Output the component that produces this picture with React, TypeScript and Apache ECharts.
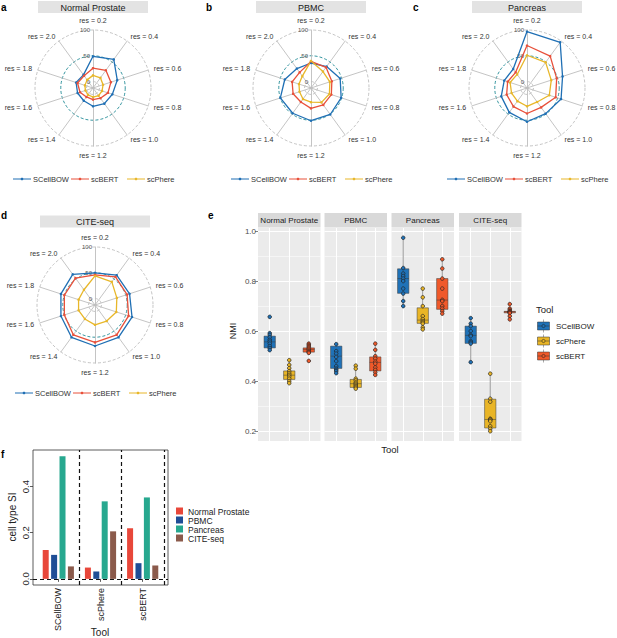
import React, { useEffect, useRef } from 'react';
import * as echarts from 'echarts';

const FONT = 'Liberation Sans, Arial, Helvetica, sans-serif';

// ---------- radar panels (a-d) ----------
const RES_LABELS = ['res = 0.2', 'res = 0.4', 'res = 0.6', 'res = 0.8', 'res = 1.0', 'res = 1.2', 'res = 1.4', 'res = 1.6', 'res = 1.8', 'res = 2.0'];
const RADAR_TOOLS = ['SCellBOW', 'scBERT', 'scPhere'];
const RADAR_COLORS = ['#1f6fb4', '#e8503a', '#e8b72a'];
const RADAR_TICKS = [0, 50, 100];

const NP_SCELLBOW = [49, 56, 37, 27, 25, 23, 18, 19, 22, 19];
const NP_SCBERT = [26, 30, 24, 18, 12, 10, 9, 14, 19, 17];
const NP_SCPHERE = [12, 12, 8, 6, 6, 5, 4, 3, 4, 7];

const PBMC_SCELLBOW = [36, 39, 47, 49, 51, 51, 48, 50, 41, 34];
const PBMC_SCBERT = [39, 37, 30, 29, 28, 27, 21, 24, 26, 25];
const PBMC_SCPHERE = [40, 27, 26, 25, 22, 15, 14, 11, 12, 16];

const PANC_SCELLBOW = [97, 97, 60, 57, 49, 53, 46, 40, 34, 33];
const PANC_SCBERT = [70, 64, 48, 46, 34, 37, 32, 29, 27, 25];
const PANC_SCPHERE = [51, 49, 37, 33, 21, 23, 19, 19, 22, 20];

const CITE_SCELLBOW = [50, 59, 58, 63, 65, 67, 65, 57, 57, 61];
const CITE_SCBERT = [46, 55, 53, 56, 59, 60, 59, 50, 50, 52];
const CITE_SCPHERE = [44, 43, 32, 31, 26, 26, 21, 21, 21, 24];

// ---------- boxplot panel (e) ----------
const NMI_TOOLS = ['SCellBOW', 'scPhere', 'scBERT'];
const NMI_COLORS = ['#1f72b8', '#e9b526', '#f0592a'];
const NMI_DATASETS = ['Normal Prostate', 'PBMC', 'Pancreas', 'CITE-seq'];
const NMI_TICKS = [0.2, 0.4, 0.6, 0.8, 1.0];
const NMI_MINOR = [0.3, 0.5, 0.7, 0.9];

// [lower whisker, Q1, median, Q3, upper whisker] per tool (SCellBOW, scPhere, scBERT)
const BOX_NP = [[0.524, 0.533, 0.557, 0.58, 0.597], [0.392, 0.407, 0.424, 0.441, 0.484], [0.513, 0.516, 0.527, 0.533, 0.55]];
const BOX_PBMC = [[0.432, 0.451, 0.5, 0.54, 0.548], [0.37, 0.375, 0.39, 0.407, 0.462], [0.425, 0.441, 0.475, 0.497, 0.55]];
const BOX_PANC = [[0.7, 0.751, 0.81, 0.849, 0.973], [0.607, 0.631, 0.644, 0.693, 0.77], [0.67, 0.687, 0.724, 0.81, 0.887]];
const BOX_CITE = [[0.476, 0.551, 0.583, 0.62, 0.652], [0.2, 0.213, 0.247, 0.328, 0.43], [0.668, 0.673, 0.677, 0.679, 0.685]];

const PTS_NP = [
  [0.657, 0.592, 0.585, 0.575, 0.565, 0.558, 0.55, 0.54, 0.532, 0.524],
  [0.484, 0.465, 0.452, 0.44, 0.432, 0.425, 0.418, 0.41, 0.4, 0.392],
  [0.55, 0.545, 0.54, 0.535, 0.53, 0.525, 0.52, 0.516, 0.513, 0.481],
];
const PTS_PBMC = [
  [0.548, 0.52, 0.51, 0.497, 0.48, 0.46, 0.45, 0.445, 0.44, 0.432],
  [0.462, 0.45, 0.41, 0.403, 0.395, 0.39, 0.385, 0.38, 0.375, 0.37],
  [0.55, 0.525, 0.5, 0.49, 0.478, 0.47, 0.455, 0.445, 0.435, 0.425],
];
const PTS_PANC = [
  [0.973, 0.852, 0.83, 0.82, 0.81, 0.8, 0.77, 0.75, 0.72, 0.7],
  [0.77, 0.735, 0.7, 0.66, 0.648, 0.64, 0.635, 0.63, 0.615, 0.607],
  [0.887, 0.85, 0.81, 0.77, 0.725, 0.72, 0.7, 0.69, 0.68, 0.67],
];
const PTS_CITE = [
  [0.652, 0.63, 0.62, 0.6, 0.585, 0.58, 0.56, 0.555, 0.55, 0.476],
  [0.43, 0.33, 0.318, 0.25, 0.247, 0.245, 0.24, 0.22, 0.21, 0.2],
  [0.708, 0.69, 0.685, 0.68, 0.678, 0.676, 0.674, 0.672, 0.66, 0.647],
];

// ---------- bar panel (f) ----------
const SI_TOOLS = ['SCellBOW', 'scPhere', 'scBERT'];
const SI_DATASETS = ['Normal Prostate', 'PBMC', 'Pancreas', 'CITE-seq'];
const SI_COLORS = ['#e8473a', '#1f4e96', '#27a88f', '#8b5a4b'];
const SI_NP = [0.125, 0.049, 0.219];
const SI_PBMC = [0.104, 0.032, 0.068];
const SI_PANC = [0.532, 0.336, 0.353];
const SI_CITE = [0.054, 0.206, 0.058];
const SI_TICKS = [0, 0.2, 0.4];
const SI_DIVIDERS = [1.5, 2.5, 3.5];

// ---------- layout ----------
const RADAR_LAYOUT = [
  { cx: 93, cy: 88, stripY: 1, legendY: 179, title: NMI_DATASETS[0], data: [NP_SCELLBOW, NP_SCBERT, NP_SCPHERE] },
  { cx: 311, cy: 88, stripY: 1, legendY: 179, title: NMI_DATASETS[1], data: [PBMC_SCELLBOW, PBMC_SCBERT, PBMC_SCPHERE] },
  { cx: 527, cy: 88, stripY: 1, legendY: 179, title: NMI_DATASETS[2], data: [PANC_SCELLBOW, PANC_SCBERT, PANC_SCPHERE] },
  { cx: 95, cy: 305, stripY: 215.5, legendY: 393, title: NMI_DATASETS[3], data: [CITE_SCELLBOW, CITE_SCBERT, CITE_SCPHERE] },
];
const RADAR_R = 58;
const RING_MIN = -12.5;
const RING_STEP = 6.25;
const RING_N = 18;
// ECharts lays radar indicators out counter-clockwise; this order makes them run clockwise from the top
const CLOCKWISE = [0, 9, 8, 7, 6, 5, 4, 3, 2, 1];

const E_LEFTS = [258, 324.5, 391.5, 459];
const E_W = 62.5;
const E_TOP = 228;
const E_H = 213;
const BOXES = [BOX_NP, BOX_PBMC, BOX_PANC, BOX_CITE];
const POINTS = [PTS_NP, PTS_PBMC, PTS_PANC, PTS_CITE];
const SI_VALUES = [SI_NP, SI_PBMC, SI_PANC, SI_CITE];

function txt(x: number, y: number, text: string, extra: any = {}, rotation = 0) {
  return {
    type: 'text', x, y, rotation, silent: true,
    style: { text, fontFamily: FONT, fontSize: 9, fill: '#222', align: 'left', verticalAlign: 'middle', ...extra },
  };
}

function strip(cx: number, y: number, w: number, h: number, text: string, fs: number, fill: string) {
  return {
    type: 'group', x: cx - w / 2, y, silent: true,
    children: [
      { type: 'rect', shape: { x: 0, y: 0, width: w, height: h }, style: { fill } },
      txt(w / 2, h / 2 + 0.5, text, { align: 'center', fontSize: fs, fill: '#1a1a1a' }),
    ],
  };
}

function radarLegend(cx: number, y: number) {
  const offs = [0, 58, 114];
  return RADAR_TOOLS.map((t, i) => ({
    type: 'group', x: cx - 80 + offs[i], y, silent: true,
    children: [
      { type: 'line', shape: { x1: 0, y1: 0, x2: 18, y2: 0 }, style: { stroke: RADAR_COLORS[i], lineWidth: 1 } },
      { type: 'circle', shape: { cx: 9, cy: 0, r: 1.3 }, style: { fill: RADAR_COLORS[i] } },
      txt(20, 0.5, t, { fontSize: 7.5, fill: '#333' }),
    ],
  }));
}

function renderBox(params: any, api: any) {
  const x = api.value(0);
  const lo = api.coord([x, api.value(1)]);
  const q1 = api.coord([x, api.value(2)]);
  const md = api.coord([x, api.value(3)]);
  const q3 = api.coord([x, api.value(4)]);
  const hi = api.coord([x, api.value(5)]);
  const half = api.size([1, 0])[0] * 0.29;
  const color = NMI_COLORS[Math.round(x) - 1];
  const stroke = '#3a3a3a';
  return {
    type: 'group',
    children: [
      { type: 'line', shape: { x1: lo[0], y1: lo[1], x2: q1[0], y2: q1[1] }, style: { stroke: '#555', lineWidth: 0.6 } },
      { type: 'line', shape: { x1: q3[0], y1: q3[1], x2: hi[0], y2: hi[1] }, style: { stroke: '#555', lineWidth: 0.6 } },
      { type: 'rect', shape: { x: q3[0] - half, y: q3[1], width: half * 2, height: Math.max(q1[1] - q3[1], 0.5) }, style: { fill: color, stroke, lineWidth: 0.5 } },
      { type: 'line', shape: { x1: md[0] - half, y1: md[1], x2: md[0] + half, y2: md[1] }, style: { stroke, lineWidth: 0.7, opacity: 0.7 } },
    ],
  };
}

function buildOption(): any {
  const ringColors = Array.from({ length: RING_N + 1 }, (_, k) => {
    const v = RING_MIN + k * RING_STEP;
    if (v === 0 || v === 100) return '#b5b5b5';
    if (v === 50) return '#007A87';
    return 'rgba(0,0,0,0)';
  });

  const radar = RADAR_LAYOUT.map((p) => ({
    center: [p.cx, p.cy],
    radius: RADAR_R,
    startAngle: 90,
    shape: 'circle',
    splitNumber: RING_N,
    indicator: CLOCKWISE.map((k, i) => ({
      name: RES_LABELS[k], min: RING_MIN, max: 100,
      ...(i === 0
        ? {
            axisLabel: {
              show: true, fontSize: 6, color: '#555', margin: 3, fontFamily: FONT,
              formatter: (v: number) => {
                const r = Math.round(v * 100) / 100;
                return RADAR_TICKS.includes(r) ? String(r) : '';
              },
            },
          }
        : {}),
    })),
    axisName: { color: '#333', fontSize: 7, fontFamily: FONT },
    nameGap: 6,
    axisLine: { lineStyle: { color: '#bdbdbd', width: 0.9 } },
    axisTick: { show: false },
    axisLabel: { show: false },
    splitLine: { lineStyle: { color: ringColors, type: [3, 2], width: 0.8 } },
    splitArea: { show: false },
  }));

  const radarSeries = RADAR_LAYOUT.map((p, pi) => ({
    type: 'radar', radarIndex: pi, symbol: 'circle', symbolSize: 2.5, silent: true, z: 3,
    data: p.data.map((vals, ti) => ({
      name: RADAR_TOOLS[ti], value: CLOCKWISE.map((k) => vals[k]),
      lineStyle: { color: RADAR_COLORS[ti], width: 1.3 },
      itemStyle: { color: RADAR_COLORS[ti] },
    })),
  }));

  const grid: any[] = E_LEFTS.map((l) => ({ left: l, top: E_TOP, width: E_W, height: E_H, show: true, backgroundColor: '#ebebeb', borderWidth: 0 }));
  grid.push({ left: 33, top: 450, width: 135, height: 135, show: true, backgroundColor: '#fff', borderColor: '#333', borderWidth: 0.8 });

  const xAxis: any[] = E_LEFTS.map((_, i) => ({
    type: 'value', gridIndex: i, min: 0.4, max: 3.6,
    axisLine: { show: false },
    axisTick: { show: false, customValues: [1, 2, 3] },
    axisLabel: { show: false, customValues: [1, 2, 3] },
    splitLine: { show: true, lineStyle: { color: '#fff', width: 1.1 } },
  }));
  xAxis.push({
    type: 'value', gridIndex: 4, min: 0.4, max: 3.6,
    axisLine: { show: false },
    splitLine: { show: false },
    axisTick: { show: true, customValues: [1, 2, 3], length: 3, lineStyle: { color: '#333', width: 0.8 } },
    axisLabel: {
      customValues: [1, 2, 3], rotate: 90, fontSize: 9, color: '#222', margin: 3, fontFamily: FONT,
      formatter: (v: number) => SI_TOOLS[Math.round(v) - 1] ?? '',
    },
  });

  const yAxis: any[] = E_LEFTS.map((_, i) => ({
    type: 'value', gridIndex: i, min: 0.161, max: 1.012,
    axisLine: { show: false },
    axisTick: { show: i === 0, customValues: NMI_TICKS, length: 3, lineStyle: { color: '#333', width: 0.6 } },
    axisLabel: { show: i === 0, customValues: NMI_TICKS, formatter: (v: number) => v.toFixed(1), fontSize: 8, color: '#4d4d4d', margin: 2, fontFamily: FONT },
    splitLine: { show: true, lineStyle: { color: '#fff', width: 1.1 } },
  }));
  yAxis.push({
    type: 'value', gridIndex: 4, min: -0.0266, max: 0.5586,
    axisLine: { show: false },
    splitLine: { show: false },
    axisTick: { customValues: SI_TICKS, length: 3, lineStyle: { color: '#333', width: 0.8 } },
    axisLabel: { customValues: SI_TICKS, formatter: (v: number) => v.toFixed(1), rotate: 90, fontSize: 9.5, color: '#222', margin: 3, fontFamily: FONT },
  });
  E_LEFTS.forEach((_, i) => {
    yAxis.push({
      type: 'value', gridIndex: i, min: 0.161, max: 1.012,
      axisLine: { show: false },
      axisTick: { show: false, customValues: NMI_MINOR },
      axisLabel: { show: false },
      splitLine: { show: true, lineStyle: { color: '#fff', width: 0.5 } },
    });
  });

  const boxSeries = BOXES.map((boxes, i) => ({
    type: 'custom', xAxisIndex: i, yAxisIndex: i, silent: true, z: 2,
    data: boxes.map((b, ti) => [ti + 1, ...b]),
    encode: { x: 0, y: [1, 2, 3, 4, 5] },
    renderItem: renderBox,
  }));
  const pointSeries = POINTS.map((pts, i) => ({
    type: 'scatter', xAxisIndex: i, yAxisIndex: i, silent: true, z: 3,
    symbol: 'circle', symbolSize: 3.6,
    itemStyle: { borderColor: '#222', borderWidth: 0.7, opacity: 1 },
    data: pts.flatMap((arr, ti) => arr.map((v) => ({ value: [ti + 1, v], itemStyle: { color: NMI_COLORS[ti] } }))),
  }));

  const barSeries = SI_DATASETS.map((name, di) => ({
    type: 'bar', name, xAxisIndex: 4, yAxisIndex: 4, silent: true, z: 2,
    barWidth: 6, barGap: '40%',
    itemStyle: { color: SI_COLORS[di] },
    data: SI_VALUES[di].map((v, ti) => [ti + 1, v]),
  }));
  const dividerSeries = {
    type: 'line', xAxisIndex: 4, yAxisIndex: 4, data: [], silent: true, z: 5,
    markLine: {
      silent: true, symbol: 'none', z: 5, animation: false,
      label: { show: false },
      lineStyle: { color: '#111', type: [4, 3], width: 1.2 },
      data: [...SI_DIVIDERS.map((x) => ({ xAxis: x })), { yAxis: 0 }],
    },
  };

  const graphics: any[] = [];
  [['a', 1, 2], ['b', 206, 2], ['c', 413, 2], ['d', 1, 210], ['e', 208, 210], ['f', 1, 449]].forEach(([t, x, y]) => {
    graphics.push(txt(x as number, y as number, t as string, { fontWeight: 'bold', fontSize: 10, verticalAlign: 'top', fill: '#000' }));
  });
  RADAR_LAYOUT.forEach((p) => {
    graphics.push(strip(p.cx, p.stripY, 110, 12, p.title, 9, '#e3e3e3'));
    radarLegend(p.cx, p.legendY).forEach((g) => graphics.push(g));
  });
  E_LEFTS.forEach((l, i) => graphics.push(strip(l + E_W / 2, 213, E_W, 14.5, NMI_DATASETS[i], 8, '#d9d9d9')));
  graphics.push(txt(233, 331, 'NMI', { align: 'center', fontSize: 9 }, Math.PI / 2));
  graphics.push(txt(390, 449, 'Tool', { align: 'center', fontSize: 9.5 }));
  graphics.push(txt(536, 309, 'Tool', { fontSize: 9.5 }));
  NMI_TOOLS.forEach((t, i) => {
    const cy = 326 + i * 15;
    graphics.push({
      type: 'group', x: 537, y: cy, silent: true,
      children: [
        { type: 'line', shape: { x1: 6.5, y1: -6.5, x2: 6.5, y2: 6.5 }, style: { stroke: '#555', lineWidth: 0.5 } },
        { type: 'rect', shape: { x: 0.5, y: -4, width: 12, height: 8 }, style: { fill: NMI_COLORS[i], stroke: '#333', lineWidth: 0.5 } },
        { type: 'line', shape: { x1: 0.5, y1: 0, x2: 12.5, y2: 0 }, style: { stroke: '#333', lineWidth: 0.5 } },
        { type: 'circle', shape: { cx: 6.5, cy: 0, r: 1.6 }, style: { fill: NMI_COLORS[i], stroke: '#222', lineWidth: 0.6 } },
      ],
    });
    graphics.push(txt(556, cy + 0.5, t, { fontSize: 8 }));
  });
  graphics.push(txt(12, 517, 'cell type SI', { align: 'center', fontSize: 10 }, Math.PI / 2));
  graphics.push(txt(100, 632, 'Tool', { align: 'center', fontSize: 10 }));
  SI_DATASETS.forEach((d, i) => {
    const cy = 511 + i * 9;
    graphics.push({ type: 'rect', silent: true, shape: { x: 176, y: cy - 3.5, width: 7, height: 7 }, style: { fill: SI_COLORS[i] } });
    graphics.push(txt(188, cy + 0.5, d, { fontSize: 8.5 }));
  });

  return {
    animation: false,
    backgroundColor: '#fff',
    textStyle: { fontFamily: FONT },
    radar,
    grid,
    xAxis,
    yAxis,
    series: [...radarSeries, ...boxSeries, ...pointSeries, ...barSeries, dividerSeries],
    graphic: graphics,
  };
}

export default function App() {
  const ref = useRef<HTMLDivElement>(null);
  useEffect(() => {
    const chart = echarts.init(ref.current as HTMLDivElement, null, { renderer: 'svg' });
    chart.setOption(buildOption());
    return () => chart.dispose();
  }, []);
  return <div ref={ref} style={{ position: 'absolute', left: 0, top: 0, width: 617, height: 638, background: '#fff' }} />;
}
